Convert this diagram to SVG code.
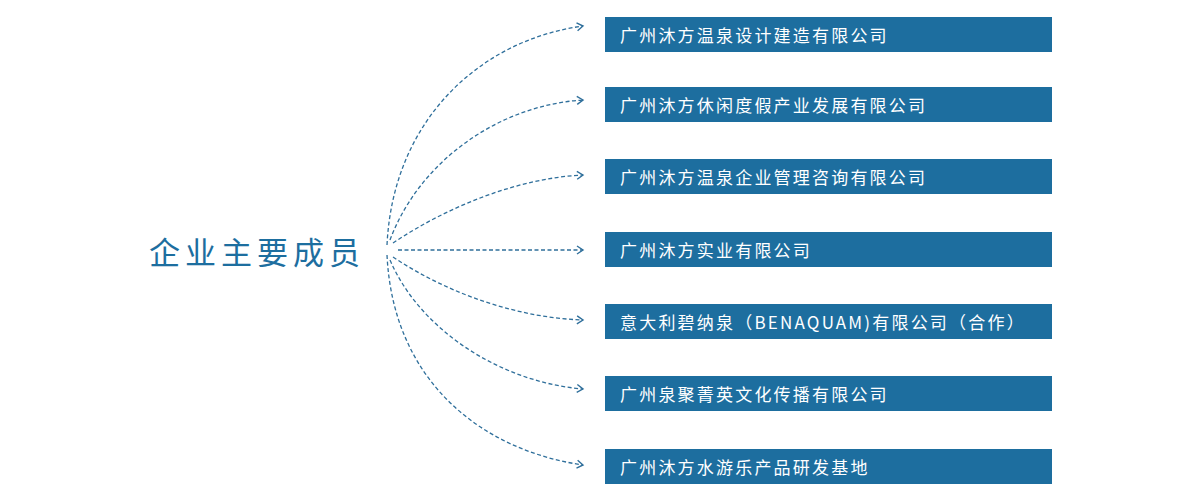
<svg xmlns="http://www.w3.org/2000/svg" width="1200" height="500" viewBox="0 0 1200 500">
<style>
.box{fill:#1d6e9f}
.bt{fill:#fff;font-family:"Noto Sans CJK SC","Liberation Sans",sans-serif;font-size:17px;letter-spacing:2.2px;dominant-baseline:central}
.c{fill:none;stroke:#2f6f9b;stroke-width:1.3;stroke-dasharray:4 2.5;marker-end:url(#a)}
.t{fill:#1d6e9f;font-family:"Noto Sans CJK SC","Liberation Sans",sans-serif;font-size:31px;letter-spacing:5px;dominant-baseline:central}
</style>
<defs><marker id="a" markerWidth="10" markerHeight="10" refX="8" refY="5" orient="auto" markerUnits="userSpaceOnUse"><path d="M2,1 L8,5 L2,9" fill="none" stroke="#2f6f9b" stroke-width="1.4"/></marker></defs>
<g id="root"><text class="t" x="149" y="250">企业主要成员</text></g>
<g id="connectors">
<path class="c" d="M387,245 C393,120 480,40 583,26"/>
<path class="c" d="M390,240 C420,160 500,105 583,100"/>
<path class="c" d="M393,243 C450,205 520,178 583,175"/>
<path class="c" d="M398,250 L583,250"/>
<path class="c" d="M393,257 C450,295 520,318 583,320"/>
<path class="c" d="M390,260 C420,330 500,382 583,389"/>
<path class="c" d="M387,255 C393,380 480,450 583,465"/>
</g>
<g id="n1"><rect class="box" x="605" y="17" width="447" height="35"/><text class="bt" x="620" y="34.5">广州沐方温泉设计建造有限公司</text></g>
<g id="n2"><rect class="box" x="605" y="87" width="447" height="35"/><text class="bt" x="620" y="104.5">广州沐方休闲度假产业发展有限公司</text></g>
<g id="n3"><rect class="box" x="605" y="159" width="447" height="35"/><text class="bt" x="620" y="176.5">广州沐方温泉企业管理咨询有限公司</text></g>
<g id="n4"><rect class="box" x="605" y="232" width="447" height="35"/><text class="bt" x="620" y="249.5">广州沐方实业有限公司</text></g>
<g id="n5"><rect class="box" x="605" y="304" width="447" height="35"/><text class="bt" x="620" y="321.5">意大利碧纳泉（BENAQUAM)有限公司（合作）</text></g>
<g id="n6"><rect class="box" x="605" y="376" width="447" height="35"/><text class="bt" x="620" y="393.5">广州泉聚菁英文化传播有限公司</text></g>
<g id="n7"><rect class="box" x="605" y="449" width="447" height="35"/><text class="bt" x="620" y="466.5">广州沐方水游乐产品研发基地</text></g>
</svg>
